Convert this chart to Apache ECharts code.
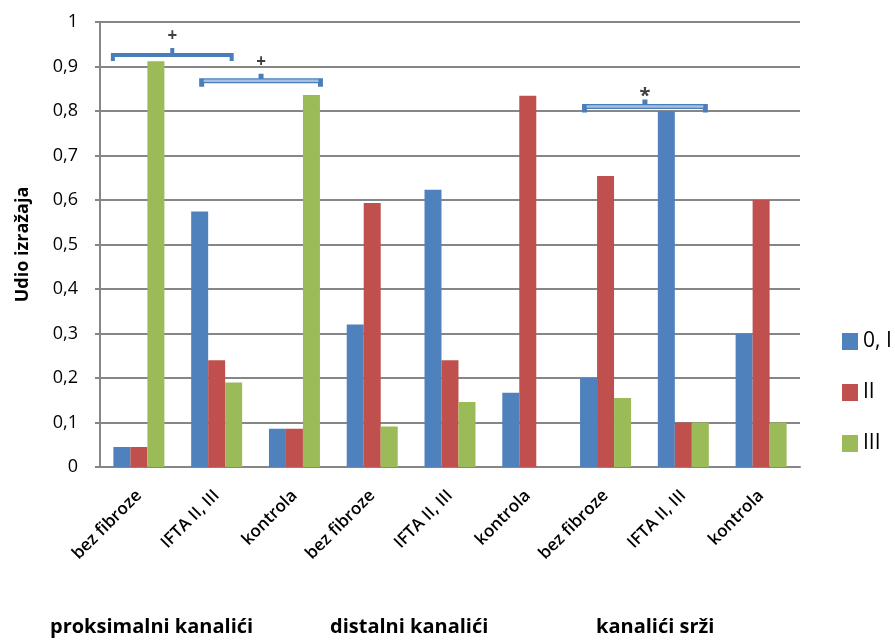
<!DOCTYPE html>
<html>
<head>
<meta charset="utf-8">
<script src="https://cdn.jsdelivr.net/npm/echarts@6/dist/echarts.min.js"></script>
<style>
  html, body { margin: 0; padding: 0; background: #fff; }
  #main { width: 895px; height: 642px; }
</style>
</head>
<body>
<div id="main"></div>
<script>
  // kategorije po skupinama kanalića
  var categories = ['bez fibroze', 'IFTA II, III', 'kontrola',
                    'bez fibroze', 'IFTA II, III', 'kontrola',
                    'bez fibroze', 'IFTA II, III', 'kontrola'];
  var seriesNames = ['0, I', 'II', 'III'];
  var valuesI   = [0.045, 0.574, 0.086, 0.32, 0.623, 0.167, 0.2, 0.8, 0.3];
  var valuesII  = [0.045, 0.24, 0.086, 0.593, 0.24, 0.834, 0.654, 0.1, 0.6];
  var valuesIII = [0.912, 0.19, 0.836, 0.091, 0.146, 0, 0.155, 0.1, 0.1];
  var groupLabels = ['proksimalni kanalići', 'distalni kanalići', 'kanalići srži'];
  // zagrade značajnosti: [od kategorije, do kategorije, razina, znak]
  var brackets = [[0, 1, 0.926, '+'], [1, 2, 0.868, '+'], [6, 7, 0.81, '*']];

  var colors = ['#4f81bd', '#c0504d', '#9bbb59'];
  var font = '"Open Sans", Lato, sans-serif';

  var chart = echarts.init(document.getElementById('main'));

  function fmt(v) {
    if (v === 0 || v === 1) return String(v);
    return v.toFixed(1).replace('.', ',');
  }

  var mkSeries = function (name, data, i) {
    return {
      name: name,
      type: 'bar',
      data: data,
      barWidth: 17,
      barGap: '0%',
      itemStyle: { color: colors[i] },
      animation: false
    };
  };

  chart.setOption({
    animation: false,
    color: colors,
    grid: { left: 100, right: 95, top: 22, bottom: 175 },
    legend: {
      orient: 'vertical',
      left: 837,
      top: 326,
      itemWidth: 16,
      itemHeight: 17,
      itemGap: 30,
      icon: 'rect',
      data: seriesNames,
      textStyle: { fontFamily: font, fontSize: 21, color: '#000' }
    },
    xAxis: {
      type: 'category',
      data: categories,
      axisLine: { lineStyle: { color: '#868686', width: 2 } },
      axisTick: { show: false },
      axisLabel: {
        interval: 0,
        rotate: 45,
        margin: 26,
        fontFamily: font,
        fontWeight: 600,
        fontSize: 17,
        color: '#000'
      }
    },
    yAxis: {
      type: 'value',
      min: 0,
      max: 1,
      interval: 0.1,
      name: 'Udio izražaja',
      nameLocation: 'middle',
      nameGap: 68,
      nameTextStyle: { fontFamily: font, fontWeight: 'bold', fontSize: 18, color: '#000' },
      axisLine: { show: true, lineStyle: { color: '#868686', width: 2 } },
      axisTick: { show: true, inside: false, length: 5, lineStyle: { color: '#868686', width: 2 } },
      splitLine: { lineStyle: { color: '#868686', width: 2 } },
      axisLabel: {
        fontFamily: font,
        fontSize: 18,
        color: '#000',
        margin: 22,
        formatter: function (v) { return fmt(v); }
      }
    },
    series: [
      mkSeries(seriesNames[0], valuesI, 0),
      mkSeries(seriesNames[1], valuesII, 1),
      mkSeries(seriesNames[2], valuesIII, 2)
    ]
  });

  // dodatni grafički elementi: zagrade i nazivi skupina
  var els = [];
  var groupX = [50, 330, 596];
  groupLabels.forEach(function (t, i) {
    els.push({
      type: 'text',
      left: groupX[i],
      top: 617,
      style: { text: t, fontFamily: font, fontWeight: 'bold', fontSize: 20, fill: '#000' }
    });
  });

  var offsets = [[-26, 15], [-15, 26], [-21, 22]];
  brackets.forEach(function (b, i) {
    var x1 = chart.convertToPixel({ xAxisIndex: 0 }, b[0]) + offsets[i][0];
    var x2 = chart.convertToPixel({ xAxisIndex: 0 }, b[1]) + offsets[i][1];
    var y = chart.convertToPixel({ yAxisIndex: 0 }, b[2]);
    var xm = (x1 + x2) / 2;
    var pts = [[x1, y + 6], [x1, y], [xm, y], [xm, y - 7], [xm, y], [x2, y], [x2, y + 6]];
    els.push({
      type: 'polyline',
      shape: { points: pts },
      style: { stroke: '#4a7ebb', lineWidth: i === 0 ? 4 : 5, fill: null }
    });
    if (i > 0) {
      els.push({
        type: 'polyline',
        shape: { points: [[x1 + 2, y], [x2 - 2, y]] },
        style: { stroke: '#a7c0e0', lineWidth: 2.5, fill: null }
      });
    }
    els.push({
      type: 'text',
      x: xm,
      y: b[3] === '*' ? y - 10 : y - 19,
      style: {
        text: b[3],
        fontFamily: font,
        fontWeight: 'bold',
        fontSize: b[3] === '*' ? 20 : 17,
        fill: '#404040',
        align: 'center',
        verticalAlign: 'middle'
      }
    });
  });

  chart.setOption({ graphic: els });
</script>
</body>
</html>
